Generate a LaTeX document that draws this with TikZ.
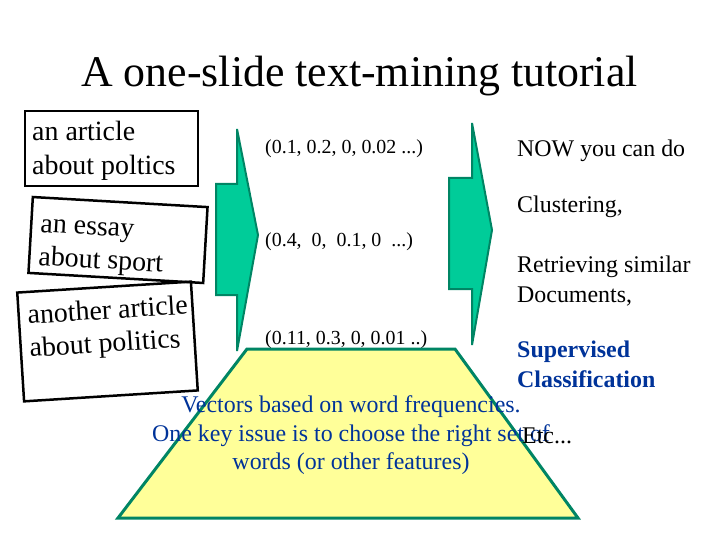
\documentclass[tikz,border=0pt]{standalone}
\usepackage{fontspec}
\setmainfont{Liberation Serif}
\definecolor{arrowgreen}{RGB}{0,204,153}
\definecolor{arrowedge}{RGB}{0,133,100}
\definecolor{slideyellow}{RGB}{255,255,153}
\definecolor{slideblue}{RGB}{0,51,153}
\tikzset{
  docbox/.style={draw, line width=2.5bp, inner sep=0pt},
  doctext/.style={anchor=base west, inner sep=0pt, font=\fontsize{28}{33}\selectfont},
  vectext/.style={anchor=base west, inner sep=0pt, font=\fontsize{20}{24}\selectfont},
  usetext/.style={anchor=base west, inner sep=0pt, font=\fontsize{24}{28}\selectfont},
  blueline/.style={anchor=base, inner sep=0pt, text=slideblue, font=\fontsize{24}{28}\selectfont},
  blockarrow/.style={fill=arrowgreen, draw=arrowedge, line width=2bp, line join=miter},
}
\begin{document}
\begin{tikzpicture}[x=1bp,y=-1bp]
\useasboundingbox (0,0) rectangle (720,540);
\node[anchor=base, inner sep=0pt, font=\fontsize{44}{53}\selectfont] (title) at (359.5,87) {A one-slide text-mining tutorial};

\node[docbox, minimum width=173bp, minimum height=75bp] (art1) at (111.5,148.5) {};
\node[doctext] (art1a) at (32,141) {an article};
\node[doctext] (art1b) at (32,175) {about poltics};
\node[docbox, minimum width=175bp, minimum height=76bp, rotate=-3.3] (essay) at (118,240) {};
\node[doctext, rotate=-3.3] (essaya) at (40,232) {an essay};
\node[doctext, rotate=-3.3] (essayb) at (38,265) {about sport};
\node[docbox, minimum width=174bp, minimum height=109bp, rotate=3.6] (art2) at (107.5,341.5) {};
\node[doctext, rotate=3.6] (art2a) at (28,324) {another article};
\node[doctext, rotate=3.6] (art2b) at (30,357) {about politics};

\draw[blockarrow] (216,184) -- (237,184) -- (237,129) -- (258,235) -- (237,351) -- (237,295) -- (216,295) -- cycle;
\draw[blockarrow] (449,178) -- (472,178) -- (472,123) -- (492,230) -- (472,345) -- (472,289) -- (449,289) -- cycle;

\node[vectext] (vec1) at (265,154) {(0.1, 0.2, 0, 0.02 ...)};
\node[vectext] (vec2) at (265,247) {(0.4,\ \ 0,\ \ 0.1, 0\ \ ...)};
\node[vectext] (vec3) at (265,344) {(0.11, 0.3, 0, 0.01 ..)};

\node[usetext] (now) at (517,157) {NOW you can do};
\node[usetext] (clust) at (517,213) {Clustering,};
\node[usetext] (retra) at (517,273) {Retrieving similar};
\node[usetext] (retrb) at (517,302) {Documents,};
\node[usetext, text=slideblue, font=\fontsize{24}{28}\bfseries] (supa) at (517,357) {Supervised};
\node[usetext, text=slideblue, font=\fontsize{24}{28}\bfseries] (supb) at (517,387) {Classification};

\draw[fill=slideyellow, draw=arrowedge, line width=3bp, line join=miter] (247,349) -- (455,349) -- (578,518) -- (118,518) -- cycle;
\node[blueline] (feat1) at (351,412) {Vectors based on word frequencies.};
\node[blueline] (feat2) at (351,441) {One key issue is to choose the right set of};
\node[blueline] (feat3) at (351,469) {words (or other features)};
\node[usetext] (etc) at (522,443) {Etc...};
\end{tikzpicture}
\end{document}
